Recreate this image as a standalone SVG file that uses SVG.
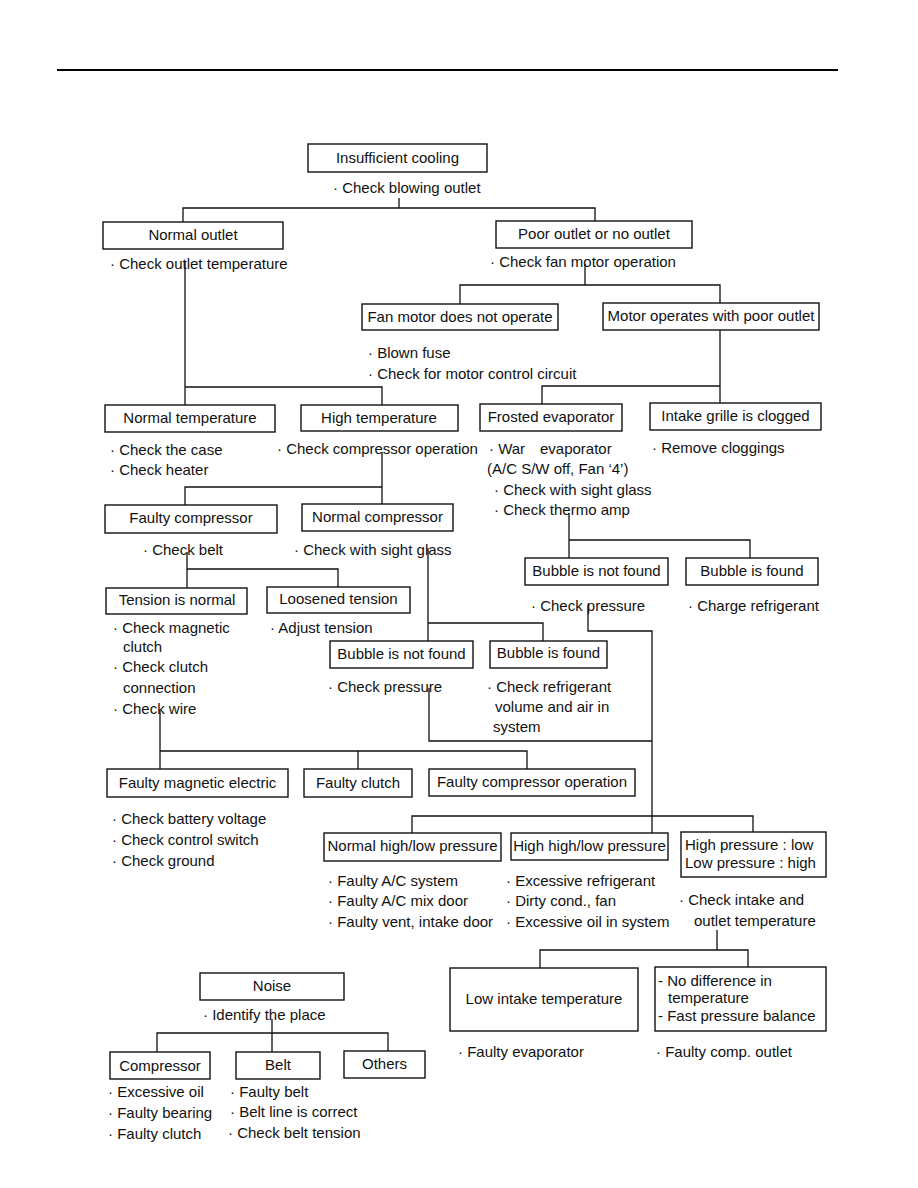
<svg xmlns="http://www.w3.org/2000/svg" width="918" height="1188" viewBox="0 0 918 1188">
<style>
.b{fill:#fff;stroke:#111;stroke-width:1.4}
.t{font-family:"Liberation Sans",Arial,sans-serif;font-size:15px;fill:#111}
.c{text-anchor:middle}
.l{fill:none;stroke:#111;stroke-width:1.3}
</style>
<rect width="918" height="1188" fill="#fff"/>
<line x1="57" y1="70" x2="838" y2="70" stroke="#000" stroke-width="2.2"/>
<g id="connectors" class="l">
<path d="M399,198V208M183,222V208H595V221"/>
<path d="M185,262V405M185,387H382V405"/>
<path d="M585,264V285M460,304V285H720V303"/>
<path d="M720,330V403M542,404V386H720"/>
<path d="M382,452V504M185,505V487H382"/>
<path d="M187,552V588M187,569H338V587"/>
<path d="M428,548V641M428,623H543V641"/>
<path d="M569,513V558M569,540H750V558"/>
<path d="M588,605V631H652V833"/>
<path d="M429,688V741H652"/>
<path d="M160,711V769M160,751H527V769M358,751V769"/>
<path d="M412,833V816H753V832"/>
<path d="M717,930V950M540,968V950H748V967"/>
<path d="M272,1019V1052M157,1052V1033H388V1051"/>
</g>
<g id="n_insufficient"><rect class="b" x="308" y="144" width="179" height="28"/><text class="t c" x="397.5" y="163">Insufficient cooling</text></g>
<g id="a_blowing"><text class="t" x="333" y="193">· Check blowing outlet</text></g>
<g id="n_normal_outlet"><rect class="b" x="103" y="222" width="180" height="27"/><text class="t c" x="193" y="240">Normal outlet</text></g>
<g id="a_outlet_temp"><text class="t" x="110" y="269">· Check outlet temperature</text></g>
<g id="n_poor_outlet"><rect class="b" x="496" y="221" width="196" height="27"/><text class="t c" x="594" y="239">Poor outlet or no outlet</text></g>
<g id="a_fan_motor"><text class="t" x="490" y="267">· Check fan motor operation</text></g>
<g id="n_fan_not"><rect class="b" x="362" y="304" width="196" height="26"/><text class="t c" x="460" y="322">Fan motor does not operate</text></g>
<g id="n_motor_poor"><rect class="b" x="603" y="303" width="216" height="27"/><text class="t c" x="711" y="321">Motor operates with poor outlet</text></g>
<g id="a_fuse"><text class="t" x="368" y="358">· Blown fuse</text><text class="t" x="368" y="379">· Check for motor control circuit</text></g>
<g id="n_normal_temp"><rect class="b" x="105" y="405" width="170" height="27"/><text class="t c" x="190" y="423">Normal temperature</text></g>
<g id="n_high_temp"><rect class="b" x="301" y="405" width="157" height="26"/><text class="t c" x="379" y="423">High temperature</text></g>
<g id="n_frosted"><rect class="b" x="480" y="404" width="142" height="27"/><text class="t c" x="551" y="422">Frosted evaporator</text></g>
<g id="n_intake"><rect class="b" x="650" y="403" width="171" height="27"/><text class="t c" x="735.5" y="421">Intake grille is clogged</text></g>
<g id="a_case"><text class="t" x="110" y="455">· Check the case</text><text class="t" x="110" y="475">· Check heater</text></g>
<g id="a_comp_op"><text class="t" x="277" y="454">· Check compressor operation</text></g>
<g id="a_war"><text class="t" x="489" y="454">· War</text><text class="t" x="540" y="454">evaporator</text><text class="t" x="487" y="474">(A/C S/W off, Fan ‘4’)</text><text class="t" x="494" y="495">· Check with sight glass</text><text class="t" x="494" y="515">· Check thermo amp</text></g>
<g id="a_remove"><text class="t" x="652" y="453">· Remove cloggings</text></g>
<g id="n_faulty_comp"><rect class="b" x="105" y="505" width="172" height="28"/><text class="t c" x="191" y="523">Faulty compressor</text></g>
<g id="n_normal_comp"><rect class="b" x="302" y="504" width="151" height="27"/><text class="t c" x="377.5" y="522">Normal compressor</text></g>
<g id="a_belt"><text class="t" x="143" y="555">· Check belt</text></g>
<g id="a_sight1"><text class="t" x="294" y="555">· Check with sight glass</text></g>
<g id="n_tension_normal"><rect class="b" x="106" y="588" width="141" height="26"/><text class="t c" x="177" y="605">Tension is normal</text></g>
<g id="n_loosened"><rect class="b" x="267" y="587" width="143" height="26"/><text class="t c" x="338.5" y="604">Loosened tension</text></g>
<g id="a_magnetic"><text class="t" x="113" y="633">· Check magnetic</text><text class="t" x="123" y="652">clutch</text><text class="t" x="113" y="672">· Check clutch</text><text class="t" x="123" y="693">connection</text><text class="t" x="113" y="714">· Check wire</text></g>
<g id="a_adjust"><text class="t" x="270" y="633">· Adjust tension</text></g>
<g id="n_bubble_nf1"><rect class="b" x="330" y="641" width="143" height="27"/><text class="t c" x="401.5" y="659">Bubble is not found</text></g>
<g id="n_bubble_f1"><rect class="b" x="490" y="641" width="117" height="27"/><text class="t c" x="548.5" y="658">Bubble is found</text></g>
<g id="a_pressure1"><text class="t" x="328" y="692">· Check pressure</text></g>
<g id="a_refrig"><text class="t" x="487" y="692">· Check refrigerant</text><text class="t" x="495" y="712">volume and air in</text><text class="t" x="493" y="732">system</text></g>
<g id="n_bubble_nf2"><rect class="b" x="525" y="558" width="143" height="27"/><text class="t c" x="596.5" y="576">Bubble is not found</text></g>
<g id="n_bubble_f2"><rect class="b" x="686" y="558" width="132" height="27"/><text class="t c" x="752" y="576">Bubble is found</text></g>
<g id="a_pressure2"><text class="t" x="531" y="611">· Check pressure</text></g>
<g id="a_charge"><text class="t" x="688" y="611">· Charge refrigerant</text></g>
<g id="n_faulty_mag"><rect class="b" x="107" y="769" width="181" height="28"/><text class="t c" x="197.5" y="788">Faulty magnetic electric</text></g>
<g id="n_faulty_clutch"><rect class="b" x="304" y="769" width="108" height="28"/><text class="t c" x="358" y="788">Faulty clutch</text></g>
<g id="n_faulty_comp_op"><rect class="b" x="429" y="769" width="206" height="27"/><text class="t c" x="532" y="787">Faulty compressor operation</text></g>
<g id="a_battery"><text class="t" x="112" y="824">· Check battery voltage</text><text class="t" x="112" y="845">· Check control switch</text><text class="t" x="112" y="866">· Check ground</text></g>
<g id="n_normal_hl"><rect class="b" x="324" y="833" width="177" height="28"/><text class="t c" x="412.5" y="851">Normal high/low pressure</text></g>
<g id="n_high_hl"><rect class="b" x="511" y="833" width="157" height="27"/><text class="t c" x="589.5" y="851">High high/low pressure</text></g>
<g id="n_hp_low"><rect class="b" x="681" y="832" width="145" height="45"/><text class="t" x="685" y="850">High pressure : low</text><text class="t" x="685" y="868">Low pressure : high</text></g>
<g id="a_faulty_ac"><text class="t" x="328" y="886">· Faulty A/C system</text><text class="t" x="328" y="906">· Faulty A/C mix door</text><text class="t" x="328" y="927">· Faulty vent, intake door</text></g>
<g id="a_excess"><text class="t" x="506" y="886">· Excessive refrigerant</text><text class="t" x="506" y="906">· Dirty cond., fan</text><text class="t" x="506" y="927">· Excessive oil in system</text></g>
<g id="a_intake_outlet"><text class="t" x="679" y="905">· Check intake and</text><text class="t" x="694" y="926">outlet temperature</text></g>
<g id="n_low_intake"><rect class="b" x="450" y="968" width="188" height="63"/><text class="t c" x="544" y="1004">Low intake temperature</text></g>
<g id="n_no_diff"><rect class="b" x="655" y="967" width="171" height="64"/><text class="t" x="658" y="986">- No difference in</text><text class="t" x="668" y="1003">temperature</text><text class="t" x="658" y="1021">- Fast pressure balance</text></g>
<g id="a_evap"><text class="t" x="458" y="1057">· Faulty evaporator</text></g>
<g id="a_comp_outlet"><text class="t" x="656" y="1057">· Faulty comp. outlet</text></g>
<g id="n_noise"><rect class="b" x="200" y="973" width="144" height="27"/><text class="t c" x="272" y="991">Noise</text></g>
<g id="a_identify"><text class="t" x="203" y="1020">· Identify the place</text></g>
<g id="n_compressor"><rect class="b" x="110" y="1052" width="100" height="27"/><text class="t c" x="160" y="1071">Compressor</text></g>
<g id="n_belt"><rect class="b" x="236" y="1052" width="84" height="27"/><text class="t c" x="278" y="1070">Belt</text></g>
<g id="n_others"><rect class="b" x="344" y="1051" width="81" height="27"/><text class="t c" x="384.5" y="1069">Others</text></g>
<g id="a_comp_list"><text class="t" x="108" y="1097">· Excessive oil</text><text class="t" x="108" y="1118">· Faulty bearing</text><text class="t" x="108" y="1139">· Faulty clutch</text></g>
<g id="a_belt_list"><text class="t" x="230" y="1097">· Faulty belt</text><text class="t" x="230" y="1117">· Belt line is correct</text><text class="t" x="228" y="1138">· Check belt tension</text></g>
</svg>
